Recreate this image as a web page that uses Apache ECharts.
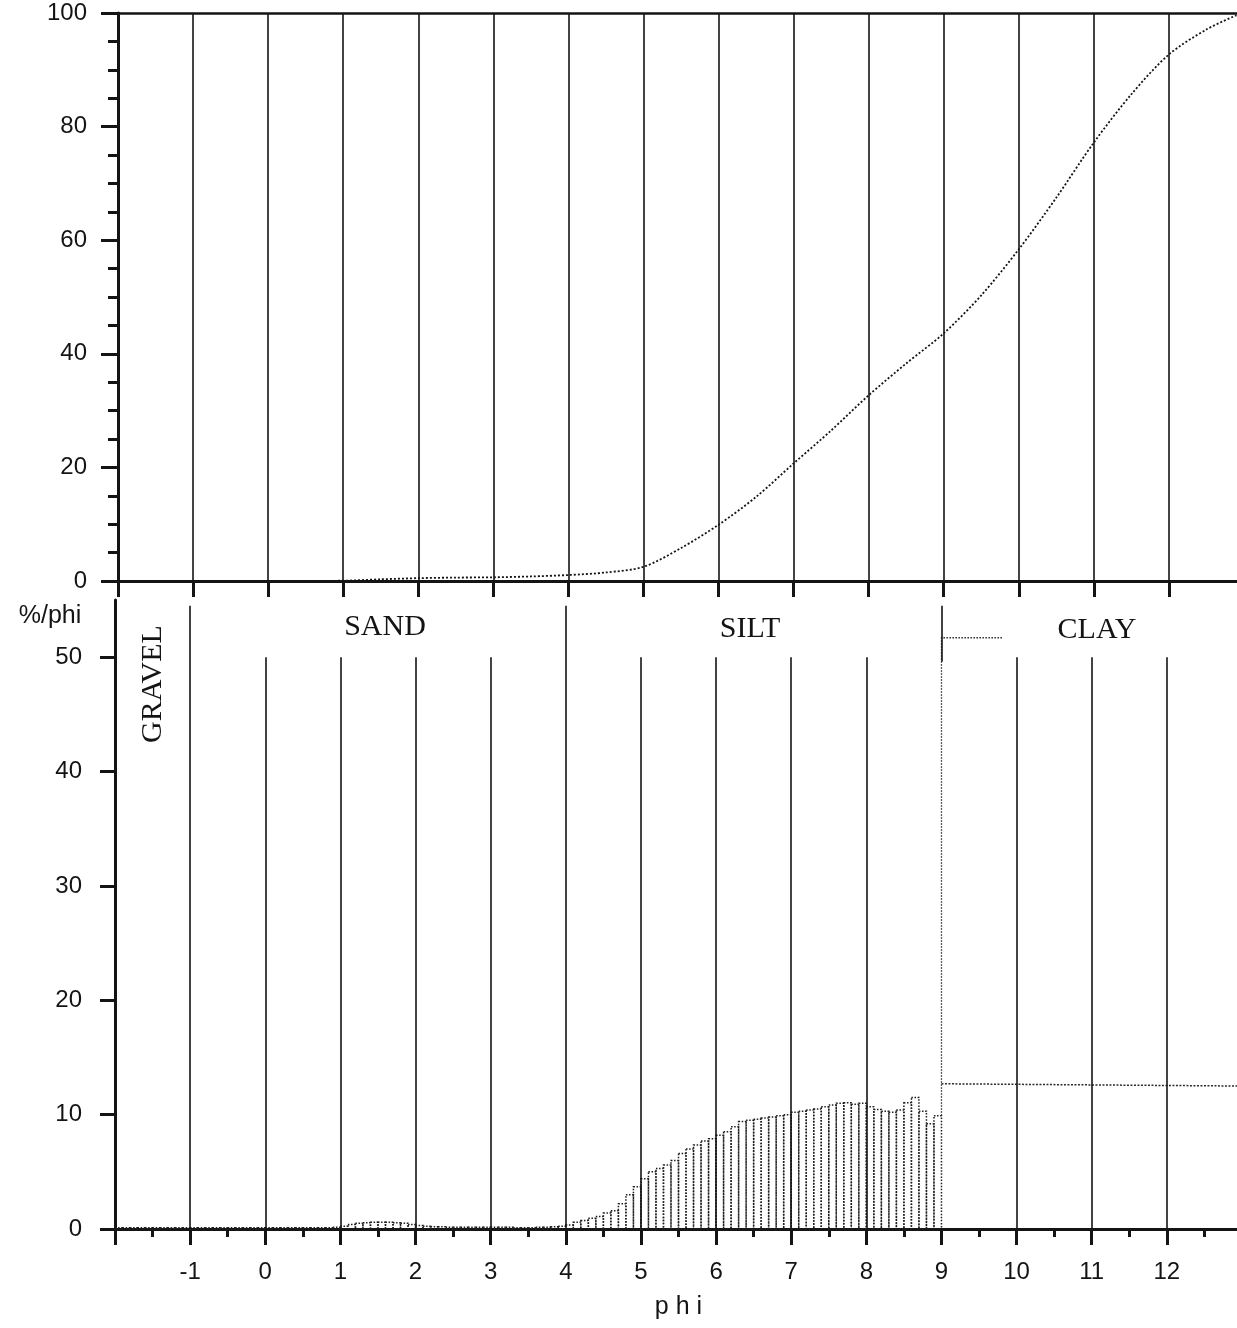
<!DOCTYPE html>
<html><head><meta charset="utf-8">
<script src="https://cdn.jsdelivr.net/npm/echarts@6/dist/echarts.min.js"></script>
<style>html,body{margin:0;padding:0;background:#fff}#c{width:1237px;height:1328px}</style>
</head><body><div id="c"></div>
<script>
// ---------- DATA ----------
const phiMin = -2, phiMax = 13;
const xTickLabels = [-1,0,1,2,3,4,5,6,7,8,9,10,11,12];
const cumTickLabels = [0,20,40,60,80,100];
const pctTickLabels = [0,10,20,30,40,50];
const pctMinorTicks = [5,15,25,35,45];

// cumulative curve (top panel)
const cumPhi = [-2,-1,0,1,1.5,2,2.5,3,3.5,4,4.5,5,5.5,6,6.5,7,7.5,8,8.5,9,9.5,10,10.5,11,11.5,12,12.5,12.9];
const cumPct = [0,0,0,0.05,0.3,0.5,0.6,0.65,0.8,1.05,1.5,2.5,5.8,9.9,14.8,20.7,26.5,32.7,38.3,43.6,50.3,58.4,67.5,77.2,85.7,92.7,97.1,99.6];

// histogram bins (bottom panel), 0.1 phi wide: left edges and %/phi values
const binLeft = [
 -2,-1.9,-1.8,-1.7,-1.6,-1.5,-1.4,-1.3,-1.2,-1.1,
 -1,-0.9,-0.8,-0.7,-0.6,-0.5,-0.4,-0.3,-0.2,-0.1,
 0,0.1,0.2,0.3,0.4,0.5,0.6,0.7,0.8,0.9,
 1,1.1,1.2,1.3,1.4,1.5,1.6,1.7,1.8,1.9,
 2,2.1,2.2,2.3,2.4,2.5,2.6,2.7,2.8,2.9,
 3,3.1,3.2,3.3,3.4,3.5,3.6,3.7,3.8,3.9,
 4,4.1,4.2,4.3,4.4,4.5,4.6,4.7,4.8,4.9,
 5,5.1,5.2,5.3,5.4,5.5,5.6,5.7,5.8,5.9,
 6,6.1,6.2,6.3,6.4,6.5,6.6,6.7,6.8,6.9,
 7,7.1,7.2,7.3,7.4,7.5,7.6,7.7,7.8,7.9,
 8,8.1,8.2,8.3,8.4,8.5,8.6,8.7,8.8,8.9];
const binWidth = 0.1;
const binPct = [
 0.1,0.1,0.1,0.1,0.1,0.1,0.1,0.1,0.1,0.1,
 0.1,0.1,0.1,0.1,0.1,0.1,0.1,0.1,0.1,0.1,
 0.1,0.1,0.1,0.1,0.1,0.1,0.1,0.1,0.12,0.15,
 0.25,0.4,0.5,0.55,0.6,0.6,0.6,0.55,0.5,0.4,
 0.3,0.25,0.2,0.2,0.15,0.15,0.15,0.15,0.15,0.15,
 0.15,0.15,0.15,0.12,0.12,0.12,0.15,0.15,0.2,0.25,
 0.35,0.6,0.75,0.95,1.1,1.4,1.6,2.2,3.0,3.7,
 4.4,5.0,5.3,5.6,6.0,6.6,7.0,7.35,7.7,7.9,
 8.2,8.5,8.95,9.4,9.5,9.6,9.7,9.8,9.9,10.0,
 10.2,10.3,10.4,10.5,10.7,10.85,11.0,11.05,10.9,11.0,
 10.7,10.45,10.3,10.2,10.4,11.05,11.5,10.3,9.2,9.9];

// clay fraction
const clayOutlinePhi = [9, 9, 9.82];
const clayOutlinePct = [9.9, 51.7, 51.7];
const clayLevelPhi = [9, 13];
const clayLevelPct = [12.7, 12.5];

// vertical reference lines in bottom panel
const innerGridPhi = [0,1,2,3,5,6,7,8,10,11,12];
const innerGridTop = 50;
const classBoundaryPhi = [-1, 4];
const boundaryTop = 54.5;
const clayBoundaryPhi = 9, clayBoundaryFrom = 49.6;

// ---------- CHART ----------
const INK = '#141414';
const sans = '"Liberation Sans", Arial, Helvetica, sans-serif';
const serif = '"Liberation Serif", "Times New Roman", serif';

const histData = binLeft.map((x, i) => [x, x + binWidth, binPct[i]]);
const zip = (a, b) => a.map((v, i) => [v, b[i]]);

const vLines = [];
innerGridPhi.forEach(x => vLines.push([{coord:[x,0]},{coord:[x,innerGridTop]}]));
classBoundaryPhi.forEach(x => vLines.push([{coord:[x,0]},{coord:[x,boundaryTop]}]));
vLines.push([{coord:[clayBoundaryPhi,clayBoundaryFrom]},{coord:[clayBoundaryPhi,boundaryTop]}]);

const labelFont = {color:INK, fontFamily:sans, fontSize:24};

const chart = echarts.init(document.getElementById('c'), null, {renderer:'canvas'});
chart.setOption({
  animation: false,
  backgroundColor: '#fff',
  grid: [
    {left: 118, top: 13, right: -7, height: 568, outerBoundsMode:'none', containLabel:false},
    {left: 115, top: 600, right: -5, height: 629, outerBoundsMode:'none', containLabel:false}
  ],
  xAxis: [
    {gridIndex:0, type:'value', min:phiMin, max:phiMax, interval:1,
     axisLine:{onZero:false, lineStyle:{color:INK,width:3}},
     axisTick:{length:16,lineStyle:{color:INK,width:3}},
     axisLabel:{show:false},
     splitLine:{show:true, showMinLine:false, showMaxLine:false, lineStyle:{color:INK,width:1.6}}},
    {gridIndex:0, type:'value', position:'top', min:phiMin, max:phiMax, interval:1,
     axisLine:{show:true, onZero:false, lineStyle:{color:INK,width:2.5}},
     axisTick:{show:false}, axisLabel:{show:false}, splitLine:{show:false}},
    {gridIndex:1, type:'value', min:phiMin, max:phiMax, interval:1,
     axisLine:{onZero:false, lineStyle:{color:INK,width:3}},
     axisTick:{length:16,lineStyle:{color:INK,width:3}},
     minorTick:{show:true, splitNumber:2, length:8, lineStyle:{color:INK,width:3}},
     axisLabel:Object.assign({margin:31, customValues: xTickLabels}, labelFont),
     splitLine:{show:false},
     name:'p h i', nameLocation:'middle', nameGap:66,
     nameTextStyle:{color:INK, fontFamily:sans, fontSize:25}}
  ],
  yAxis: [
    {gridIndex:0, type:'value', min:0, max:100, interval:20,
     axisLine:{show:true, onZero:false, lineStyle:{color:INK,width:3}},
     axisTick:{show:true, length:17, lineStyle:{color:INK,width:3}},
     minorTick:{show:true, splitNumber:4, length:10, lineStyle:{color:INK,width:3}},
     axisLabel:Object.assign({margin:31, customValues: cumTickLabels}, labelFont),
     splitLine:{show:false}},
    {gridIndex:1, type:'value', min:0, max:55,
     axisLine:{show:true, onZero:false, lineStyle:{color:INK,width:3}},
     axisTick:{show:true, length:15, lineStyle:{color:INK,width:3}, customValues: pctTickLabels},
     axisLabel:Object.assign({margin:33, customValues: pctTickLabels}, labelFont),
     splitLine:{show:false}},
    {gridIndex:1, type:'value', min:0, max:55,
     axisLine:{show:false, onZero:false},
     axisTick:{show:true, length:8, lineStyle:{color:INK,width:3}, customValues: pctMinorTicks},
     axisLabel:{show:false},
     splitLine:{show:false}}
  ],
  series: [
    {type:'line', name:'cumulative', xAxisIndex:0, yAxisIndex:0,
     data: zip(cumPhi, cumPct), smooth:0.3, showSymbol:false,
     lineStyle:{color:INK, width:1.8, type:[2,2]}, silent:true, z:5},
    {type:'custom', name:'histogram', xAxisIndex:2, yAxisIndex:1,
     data: histData, encode:{x:[0,1], y:2}, silent:true, z:4,
     renderItem: (params, api) => {
       const x0 = api.value(0), x1 = api.value(1), v = api.value(2);
       const p0 = api.coord([x0, 0]), p1 = api.coord([x1, v]);
       return {type:'rect',
         shape:{x:p0[0], y:p1[1], width:p1[0]-p0[0], height:p0[1]-p1[1]},
         style:{fill:'none', stroke:'#1e1e1e', lineWidth:1.5, lineDash:[1.5,1.6]}};
     }},
    {type:'line', name:'clay outline', xAxisIndex:2, yAxisIndex:1,
     data: zip(clayOutlinePhi, clayOutlinePct), showSymbol:false, silent:true,
     lineStyle:{color:'#2a2a2a', width:1.3, type:[1.5,1.5]}, z:4},
    {type:'line', name:'clay', xAxisIndex:2, yAxisIndex:1,
     data: zip(clayLevelPhi, clayLevelPct), showSymbol:false, silent:true,
     lineStyle:{color:'#2a2a2a', width:1.5, type:[2,1.5]}, z:4,
     markLine:{silent:true, symbol:['none','none'], label:{show:false},
       lineStyle:{color:INK, width:1.6, type:'solid'}, emphasis:{disabled:true},
       data: vLines}}
  ],
  graphic: [
    {type:'text', x:50, y:616, style:{text:'%/phi', fill:INK, font:'25px '+sans, textAlign:'center', textVerticalAlign:'middle'}},
    {type:'text', x:153, y:684, rotation:Math.PI/2, style:{text:'GRAVEL', fill:INK, font:'30px '+serif, textAlign:'center', textVerticalAlign:'middle'}},
    {type:'text', x:385, y:627, style:{text:'SAND', fill:INK, font:'30px '+serif, textAlign:'center', textVerticalAlign:'middle'}},
    {type:'text', x:750, y:629, style:{text:'SILT', fill:INK, font:'30px '+serif, textAlign:'center', textVerticalAlign:'middle'}},
    {type:'text', x:1097, y:630, style:{text:'CLAY', fill:INK, font:'30px '+serif, textAlign:'center', textVerticalAlign:'middle'}}
  ]
});
</script>
</body></html>
